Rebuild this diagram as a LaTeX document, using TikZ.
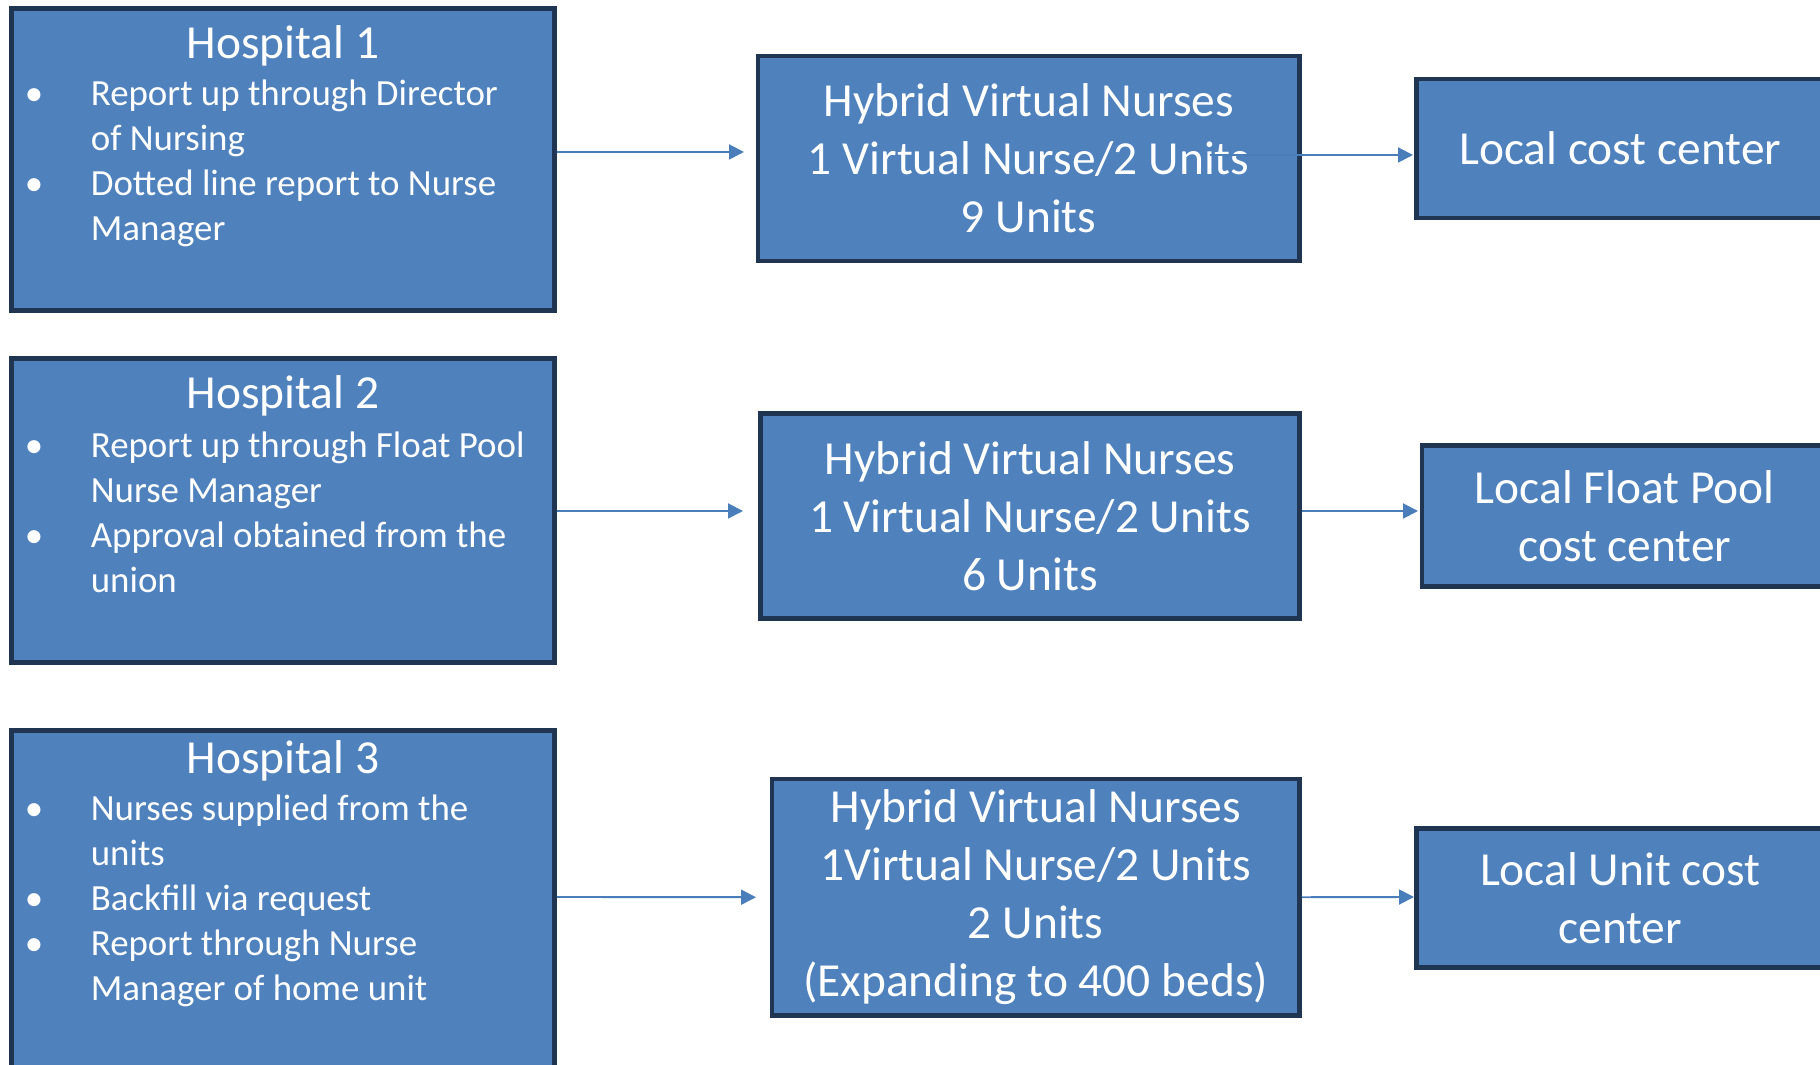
\documentclass[tikz,border=0pt]{standalone}
\usepackage{fontspec}
\setmainfont{Carlito}
\definecolor{NurseBlue}{HTML}{4F81BD}
\definecolor{NurseEdge}{HTML}{1F3552}
\definecolor{NurseFlow}{HTML}{4A7EBB}
\usetikzlibrary{arrows.meta,positioning,calc}
\newcommand\hitem{\leavevmode\llap{\textbullet\hspace{0.95cm}}}

\begin{document}
\begin{tikzpicture}[x=0.02cm,y=-0.02cm,
      panel/.style={draw=NurseEdge,line width=2.8pt,fill=NurseBlue,anchor=north west,
                    inner sep=0pt,outer sep=0pt,text=white,align=center,
                    font=\fontsize{27}{32.9}\selectfont},
      title/.style={anchor=base,inner sep=0pt,text=white,font=\fontsize{27}{32.9}\selectfont},
      points/.style={anchor=base west,inner sep=0pt,text=white,text width=9.6cm,align=flush left,
                     font=\fontsize{21}{25.7}\selectfont},
      flow/.style={-{Triangle[length=0.3cm,width=0.3cm]},line width=1.1pt,draw=NurseFlow}]
    \clip (0,0) rectangle (1820,1065);
    % hospitals
    \node[panel,minimum width=10.86cm,minimum height=6.04cm] (hosp1) at (11.5,8.5) {};
    \node[panel,minimum width=10.86cm,minimum height=6.08cm] (hosp2) at (11.5,358.5) {};
    \node[panel,minimum width=10.86cm,minimum height=7.2cm] (hosp3) at (11.5,730.5) {};
    \node[title] (title1) at ($(hosp1.north)+(0,49.5)$) {Hospital 1};
    \node[title] (title2) at ($(hosp2.north)+(0,49.5)$) {Hospital 2};
    \node[title] (title3) at ($(hosp3.north)+(0,42.5)$) {Hospital 3};
    \node[points] (list1) at ($(hosp1.north west)+(79,97)$) {\hitem Report up through Director\\
      of Nursing\\ \hitem Dotted line report to Nurse\\ Manager};
    \node[points] (list2) at ($(hosp2.north west)+(79,98.5)$) {\hitem Report up through Float Pool\\
      Nurse Manager\\ \hitem Approval obtained from the\\ union};
    \node[points] (list3) at ($(hosp3.north west)+(79,89.5)$) {\hitem Nurses supplied from the\\
      units\\ \hitem Backfill via request\\ \hitem Report through Nurse\\ Manager of home unit};
    % virtual nurses
    \node[panel,minimum width=10.83cm,minimum height=4.1cm] (hvn1) at (758,56)
      {Hybrid Virtual Nurses\\1 Virtual Nurse/2 Units\\9 Units};
    \node[panel,minimum width=10.78cm,minimum height=4.1cm] (hvn2) at (760.5,413.5)
      {Hybrid Virtual Nurses\\1 Virtual Nurse/2 Units\\6 Units};
    \node[panel,minimum width=10.55cm,minimum height=4.73cm] (hvn3) at (772,779)
      {Hybrid Virtual Nurses\\1Virtual Nurse/2 Units\\2 Units\\(Expanding to 400 beds)};
    % cost centers
    \node[panel,minimum width=8.15cm,minimum height=2.78cm] (cost1) at (1416.5,79)
      {Local cost center};
    \node[panel,minimum width=8.12cm,minimum height=2.82cm] (cost2) at (1422,445.5)
      {Local Float Pool\\cost center};
    \node[panel,minimum width=8.15cm,minimum height=2.78cm] (cost3) at (1416.5,828.5)
      {Local Unit cost\\center};
    \draw[flow] ([shift={(2.5,-7.5)}]hosp1.east) -- ([shift={(-14,-6.5)}]hvn1.west);
    \draw[flow] ([shift={(-89.5,-3.5)}]hvn1.east) -- ([shift={(-3.5,6.5)}]cost1.west);
    \draw[flow] ([shift={(2.5,0.5)}]hosp2.east) -- ([shift={(-17.5,-5)}]hvn2.west);
    \draw[flow] ([shift={(2.5,-5)}]hvn2.east) -- ([shift={(-4,-5)}]cost2.west);
    \draw[flow] ([shift={(2.5,-13.5)}]hosp3.east) -- ([shift={(-16,0)}]hvn3.west);
    \draw[flow] ([shift={(2.5,0)}]hvn3.east) -- ([shift={(-2.5,-1)}]cost3.west);
  \end{tikzpicture}
\end{document}
